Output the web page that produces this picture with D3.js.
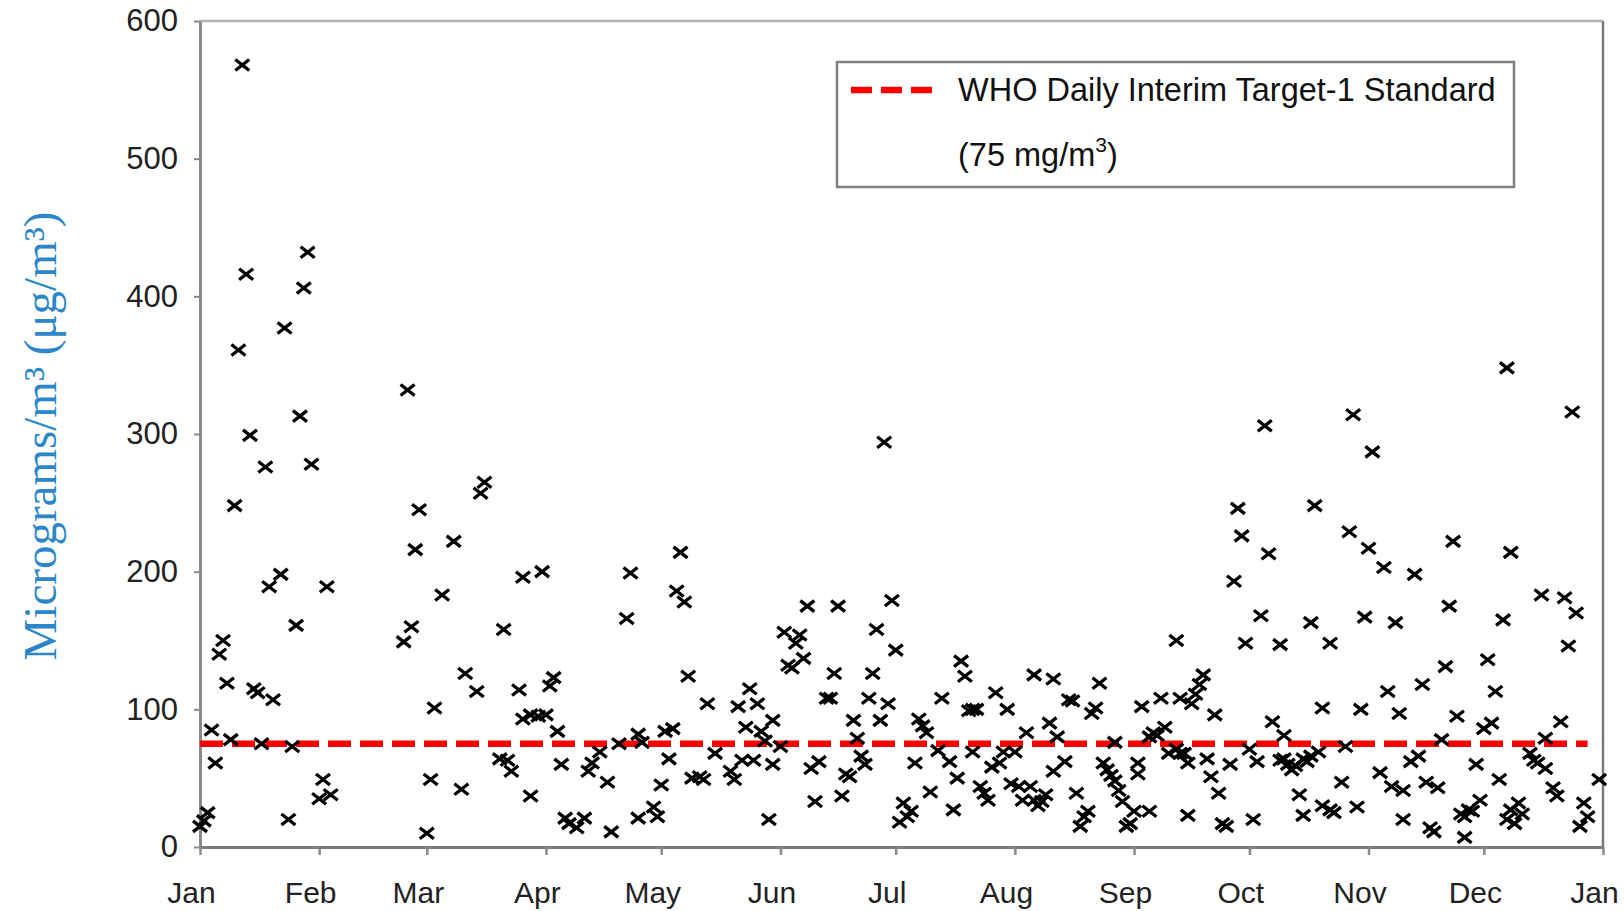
<!DOCTYPE html>
<html>
<head>
<meta charset="utf-8">
<script src="https://cdn.jsdelivr.net/npm/d3@7"></script>
<style>
  html, body { margin: 0; padding: 0; background: #fff; }
  svg { display: block; }
</style>
</head>
<body>
<svg id="chart" width="1624" height="911"></svg>
<script>
// ---- Data: daily PM concentrations, [day of month, µg/m³] ----
const jan = [[1,15],[2,19],[3,25],[4,85],[5,61],[6,140],[7,150],[8,119],[9,78],[10,248],[11,361],[12,568],[13,416],[14,299],[15,115],[16,112],[17,75],[18,276],[19,189],[20,107],[22,198],[23,377],[24,20],[25,73],[26,161],[27,313],[28,406],[29,432],[30,278]];
const feb = [[1,35],[2,49],[3,189],[4,38],[23,149],[24,332],[25,160],[26,216],[27,245]];
const mar = [[1,10],[2,49],[3,101],[5,183],[8,222],[10,42],[11,126],[14,113],[15,257],[16,265],[20,64],[21,158],[22,63],[23,55],[25,114],[26,196],[26,93],[28,37],[28,96],[30,95],[31,200]];
const apr = [[1,96],[2,117],[3,123],[4,84],[5,60],[6,21],[7,17],[9,14],[11,21],[12,55],[13,61],[15,69],[17,47],[18,11],[20,75],[22,166],[23,199],[25,82],[25,21],[26,76],[29,29],[30,22]];
const may = [[1,45],[2,84],[3,64],[4,86],[5,186],[6,214],[7,178],[8,124],[9,50],[11,51],[12,49],[13,104],[15,68],[19,55],[20,49],[21,102],[22,63],[23,87],[24,115],[25,63],[26,104],[27,84],[28,77],[29,20],[30,60],[30,92]];
const jun = [[1,73],[2,156],[3,132],[4,130],[5,148],[6,154],[7,137],[8,175],[9,57],[10,33],[11,62],[13,108],[14,108],[15,126],[16,175],[17,37],[18,53],[19,51],[20,92],[21,79],[22,66],[23,60],[24,108],[25,126],[26,158],[27,92],[28,294],[29,104],[30,179]];
const jul = [[1,143],[2,18],[3,32],[4,22],[5,26],[6,61],[7,93],[8,88],[9,83],[10,40],[12,70],[13,108],[15,62],[16,27],[17,50],[18,135],[19,124],[20,99],[21,100],[21,69],[22,100],[23,44],[24,39],[25,34],[26,58],[27,112],[28,61],[29,69],[30,100],[31,46]];
const aug = [[1,69],[2,44],[3,34],[4,83],[5,44],[6,125],[6,34],[7,30],[8,33],[9,38],[10,90],[11,122],[11,55],[12,80],[14,62],[15,107],[16,106],[17,39],[18,15],[19,22],[20,26],[21,97],[22,101],[23,119],[24,61],[25,56],[26,52],[27,76],[27,48],[28,41],[29,33],[30,15],[31,17]];
const sep = [[1,26],[2,61],[2,53],[3,102],[5,26],[5,80],[6,83],[7,81],[8,108],[9,87],[10,68],[12,71],[12,150],[13,68],[13,108],[14,68],[15,23],[15,61],[16,104],[17,111],[18,118],[19,125],[20,64],[21,51],[22,96],[23,39],[24,17],[25,15],[26,60],[27,193],[28,246],[29,226],[30,148]];
const oct = [[1,71],[2,20],[3,62],[4,168],[5,306],[6,213],[7,91],[9,147],[9,63],[10,81],[10,64],[11,60],[12,56],[13,59],[14,38],[15,64],[15,23],[16,62],[17,66],[17,163],[18,248],[19,69],[20,30],[20,101],[22,27],[22,148],[23,25],[25,47],[26,73],[27,229],[28,314],[29,29],[30,100],[31,167]];
const nov = [[1,217],[2,287],[4,54],[5,203],[6,113],[7,44],[8,163],[9,97],[10,41],[10,20],[12,62],[13,198],[14,66],[15,118],[16,47],[17,14],[18,11],[19,43],[20,78],[21,131],[22,175],[23,222],[24,95],[25,24],[26,7],[26,22],[27,27],[28,26],[29,60],[30,34]];
const dec = [[1,86],[2,136],[3,90],[4,113],[5,49],[6,165],[7,348],[7,20],[8,214],[8,27],[9,17],[10,32],[11,24],[13,68],[14,63],[15,61],[16,183],[17,79],[17,57],[19,43],[20,37],[21,91],[22,181],[23,146],[24,316],[25,170],[26,15],[27,32],[28,22],[31,49]];

const monthlySeries = [jan, feb, mar, apr, may, jun, jul, aug, sep, oct, nov, dec];
const yTicks = [0, 100, 200, 300, 400, 500, 600];
const standardValue = 75;
const legendLine1 = "WHO Daily Interim Target-1 Standard";
const yTitle = "Micrograms/m³ (μg/m³)";
const YEAR = 2010;

const points = monthlySeries.flatMap((arr, m) =>
  arr.map(([d, v]) => ({ date: new Date(YEAR, m, d), value: v })));

// ---- Layout ----
const svg = d3.select("#chart");
const L = 200, R = 1603, T = 21, B = 847;
const FONT = "'Liberation Sans', Arial, sans-serif";

const x = d3.scaleTime()
  .domain([new Date(YEAR, 0, 1), new Date(YEAR + 1, 0, 1)])
  .range([L, R]);
const y = d3.scaleLinear().domain([0, 600]).range([B, T]);

// frame: top & right
svg.append("line").attr("x1", L).attr("x2", R).attr("y1", T).attr("y2", T)
  .attr("stroke", "#b4b4b4").attr("stroke-width", 2.5);
svg.append("line").attr("x1", R).attr("x2", R).attr("y1", T).attr("y2", B)
  .attr("stroke", "#7a7a7a").attr("stroke-width", 2.5);

// y axis
const yAxis = svg.append("g").attr("transform", `translate(${L},0)`)
  .call(d3.axisLeft(y).tickValues(yTicks).tickSize(6).tickSizeOuter(0).tickPadding(16));
yAxis.select(".domain").attr("stroke", "#8a8a8a").attr("stroke-width", 3);
yAxis.selectAll(".tick line").attr("stroke", "#8a8a8a").attr("stroke-width", 2);
yAxis.selectAll(".tick text")
  .attr("font-family", FONT).attr("font-size", 31).attr("fill", "#222");

// x axis
const xAxis = svg.append("g").attr("transform", `translate(0,${B})`)
  .call(d3.axisBottom(x).ticks(d3.timeMonth.every(1)).tickFormat(d3.timeFormat("%b"))
    .tickSize(8).tickSizeOuter(0).tickPadding(27));
xAxis.select(".domain").attr("stroke", "#7a7a7a").attr("stroke-width", 3);
xAxis.selectAll(".tick line").attr("stroke", "#8a8a8a").attr("stroke-width", 2.5);
xAxis.selectAll(".tick text")
  .attr("font-family", FONT).attr("font-size", 30).attr("fill", "#222").attr("dx", -9);

// y title
svg.append("text")
  .attr("transform", "translate(56,436) rotate(-90)")
  .attr("text-anchor", "middle")
  .attr("font-family", "'Liberation Serif', 'Times New Roman', serif")
  .attr("font-size", 47).attr("fill", "#2b87c9")
  .text(yTitle);

// standard line
svg.append("line")
  .attr("x1", x(new Date(YEAR, 0, 1))).attr("x2", x(new Date(YEAR, 11, 28)))
  .attr("y1", y(standardValue)).attr("y2", y(standardValue))
  .attr("stroke", "#ff0000").attr("stroke-width", 6.5)
  .attr("stroke-dasharray", "23,9");

// points (× markers)
svg.append("g").selectAll("path").data(points).join("path")
  .attr("transform", d => `translate(${x(d.date)},${y(d.value)})`)
  .attr("d", "M-7,-5.5L7,5.5M-7,5.5L7,-5.5")
  .attr("stroke", "#000").attr("stroke-width", 3.3).attr("fill", "none");

// legend
const lg = svg.append("g");
lg.append("rect").attr("x", 837).attr("y", 62).attr("width", 677).attr("height", 125)
  .attr("fill", "#fff").attr("stroke", "#808080").attr("stroke-width", 2.5);
lg.append("line").attr("x1", 851).attr("x2", 937).attr("y1", 90).attr("y2", 90)
  .attr("stroke", "#ff0000").attr("stroke-width", 6.5).attr("stroke-dasharray", "21,9");
lg.append("text").attr("x", 958).attr("y", 101)
  .attr("font-family", FONT).attr("font-size", 32.5).attr("fill", "#111").text(legendLine1);
const t2 = lg.append("text").attr("x", 958).attr("y", 166)
  .attr("font-family", FONT).attr("font-size", 32.5).attr("fill", "#111");
t2.append("tspan").text("(75 mg/m");
t2.append("tspan").attr("font-size", 21).attr("dy", -14).text("3");
t2.append("tspan").attr("dy", 14).text(")");
</script>
</body>
</html>
